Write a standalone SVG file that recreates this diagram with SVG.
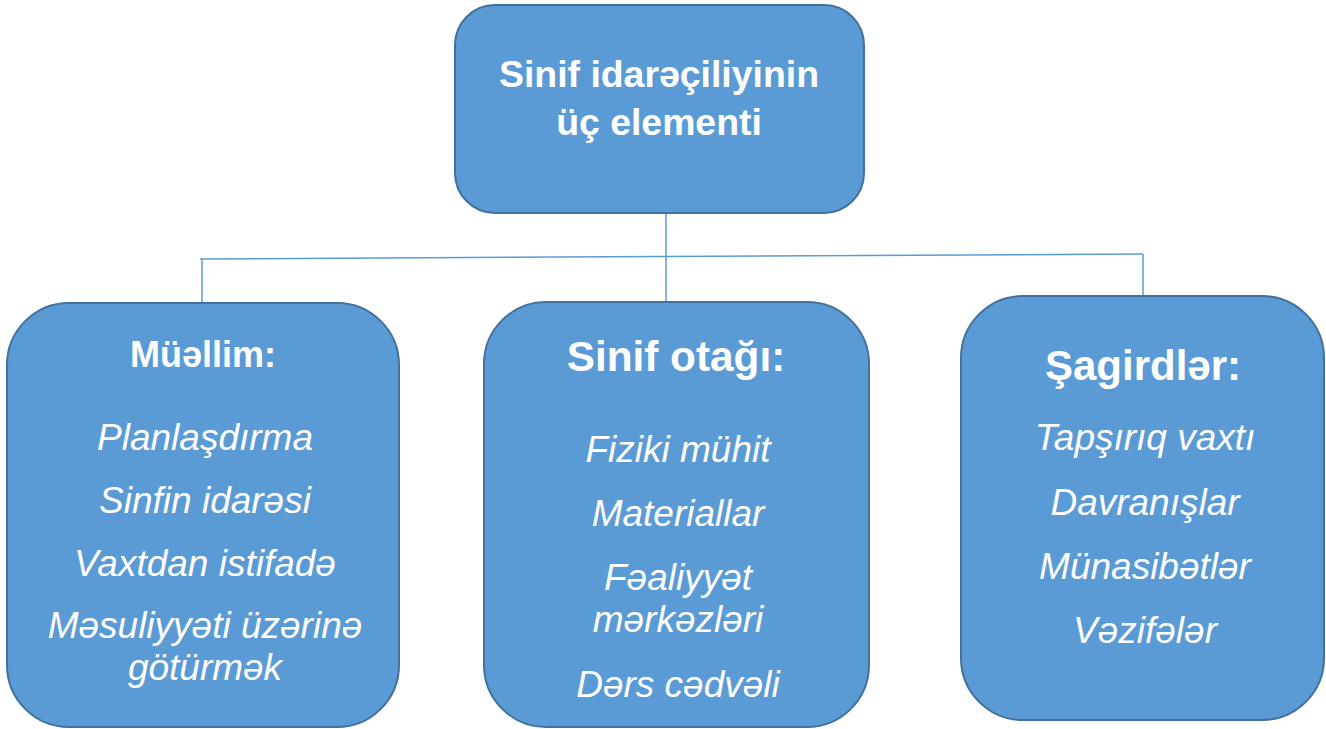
<svg xmlns="http://www.w3.org/2000/svg" width="1326" height="729" viewBox="0 0 1326 729">
<style>
.box{fill:#5B9BD5;stroke:#41719C;stroke-width:2}
.ln{stroke:#5B9BD5;stroke-width:1.5;fill:none}
.hd{font-family:"Liberation Sans",Arial,sans-serif;font-weight:bold;fill:#fff;text-anchor:middle}
.it{font-family:"Liberation Sans",Arial,sans-serif;font-style:italic;fill:#fff;text-anchor:middle;font-size:37px}
</style>
<rect width="1326" height="729" fill="#fff"/>
<g id="connectors">
<line class="ln" x1="666" y1="213" x2="666" y2="302"/>
<line class="ln" x1="200" y1="259" x2="1143" y2="254"/>
<line class="ln" x1="202" y1="259" x2="202" y2="303"/>
<line class="ln" x1="1143" y1="254" x2="1143" y2="296"/>
</g>
<g id="top">
<rect class="box" x="455" y="5" width="409" height="208" rx="40"/>
<text class="hd" font-size="37.4" x="659" y="87">Sinif idarəçiliyinin</text>
<text class="hd" font-size="37.4" x="659" y="135">üç elementi</text>
</g>
<g id="muellim">
<rect class="box" x="7" y="303" width="392" height="424" rx="62"/>
<text class="hd" font-size="36" x="203" y="367">Müəllim:</text>
<text class="it" font-size="35.3" x="205" y="450">Planlaşdırma</text>
<text class="it" font-size="35.3" x="205" y="513">Sinfin idarəsi</text>
<text class="it" font-size="35.3" x="205" y="576">Vaxtdan istifadə</text>
<text class="it" font-size="35.3" x="205" y="638">Məsuliyyəti üzərinə</text>
<text class="it" font-size="35.3" x="205" y="680">götürmək</text>
</g>
<g id="sinif-otagi">
<rect class="box" x="484" y="302" width="385" height="425" rx="62"/>
<text class="hd" font-size="42.3" x="676" y="371">Sinif otağı:</text>
<text class="it" x="678" y="462">Fiziki mühit</text>
<text class="it" x="678" y="526">Materiallar</text>
<text class="it" x="678" y="590">Fəaliyyət</text>
<text class="it" x="678" y="632">mərkəzləri</text>
<text class="it" x="678" y="697">Dərs cədvəli</text>
</g>
<g id="sagirdler">
<rect class="box" x="961" y="296" width="363" height="424" rx="62"/>
<text class="hd" font-size="42" x="1143" y="380">Şagirdlər:</text>
<text class="it" x="1145" y="450">Tapşırıq vaxtı</text>
<text class="it" x="1145" y="515">Davranışlar</text>
<text class="it" x="1145" y="579">Münasibətlər</text>
<text class="it" x="1145" y="643">Vəzifələr</text>
</g>
</svg>
